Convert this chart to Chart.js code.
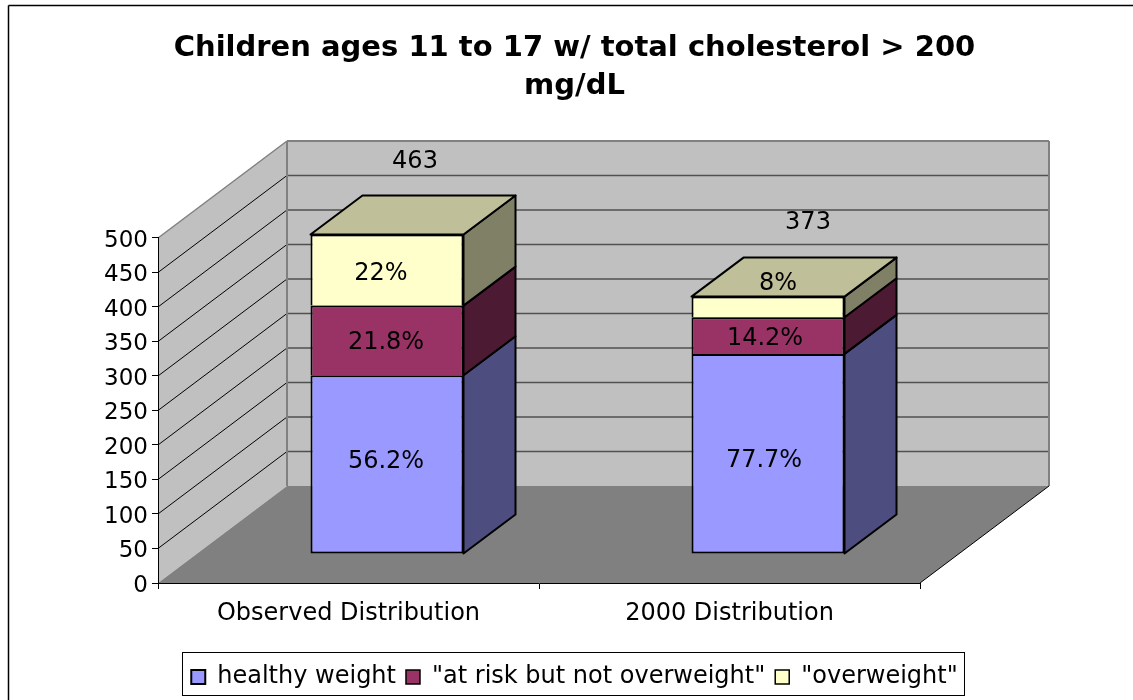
<!DOCTYPE html>
<html>
<head>
<meta charset="utf-8">
<title>Children ages 11 to 17 w/ total cholesterol > 200 mg/dL</title>
<script src="https://cdn.jsdelivr.net/npm/chart.js@4"></script>
<style>
    html, body { margin: 0; padding: 0; background: #fff; }
    canvas { display: block; }
</style>
</head>
<body>
<canvas id="cholesterolChart" width="1133" height="700"></canvas>
<script>
// Chart data
const categories = ['Observed Distribution', '2000 Distribution'];
const seriesNames = ['healthy weight', '"at risk but not overweight"', '"overweight"'];
const healthyWeight = [259, 290];
const atRisk = [101, 53];
const overweight = [103, 30];
const healthyLabels = ['56.2%', '77.7%'];
const atRiskLabels = ['21.8%', '14.2%'];
const overweightLabels = ['22%', '8%'];
const totals = [463, 373];
const yTicks = [0, 50, 100, 150, 200, 250, 300, 350, 400, 450, 500];

// Colours of each series: front, top and side faces
const frontColors = ['#9999ff', '#993366', '#ffffcc'];
const topColors = ['#7373bf', '#732648', '#bfbf99'];
const sideColors = ['#4d4d80', '#4d1a33', '#808066'];

// 3D look: how far the back wall and the bars are pushed from the axis plane
const wallDepth = { x: 129, y: -97 };
const barShift = { x: 38.5, y: -29 };
const barDepth = { x: 52, y: -39 };

// Hand placed labels, moved away from the middle of their segment
const segmentNudges = [
    [{ x: -1, y: -2.5 }, { x: -4, y: 7.5 }],
    [{ x: -1, y: 2.5 }, { x: -3, y: 3.5 }],
    [{ x: -6, y: 3.5 }, { x: 10, y: -23 }]
];
const totalNudges = [{ x: 28, y: -73 }, { x: 40, y: -73.5 }];
const segmentLabels = [healthyLabels, atRiskLabels, overweightLabels];

const fontFamily = '"DejaVu Sans", Verdana, sans-serif';

function poly(ctx, points, fill, stroke, lineWidth) {
    ctx.beginPath();
    points.forEach((p, i) => i ? ctx.lineTo(p[0], p[1]) : ctx.moveTo(p[0], p[1]));
    ctx.closePath();
    if (fill) {
        ctx.fillStyle = fill;
        ctx.fill();
    }
    if (stroke) {
        ctx.strokeStyle = stroke;
        ctx.lineWidth = lineWidth;
        ctx.lineJoin = 'round';
        ctx.stroke();
    }
}

function line(ctx, x1, y1, x2, y2, color, lineWidth) {
    ctx.beginPath();
    ctx.moveTo(x1, y1);
    ctx.lineTo(x2, y2);
    ctx.strokeStyle = color;
    ctx.lineWidth = lineWidth;
    ctx.stroke();
}

// Walls, floor and gridlines, under everything else
const wallsPlugin = {
    id: 'walls',
    // y tick labels sit a little under their tick marks
    afterLayout(chart) {
        chart.scales.y.getLabelItems().forEach(item => { item.textOffset += 3; });
    },
    beforeDraw(chart) {
        const { ctx, chartArea: area, scales } = chart;
        const dx = wallDepth.x;
        const dy = wallDepth.y;
        ctx.save();

        // outer frame, cut off on the right and at the bottom
        line(ctx, 8.5, chart.height, 8.5, 5.5, '#000', 1.5);
        line(ctx, 8.5, 5.5, chart.width, 5.5, '#000', 1.5);

        poly(ctx, [[area.left, area.bottom], [area.left + dx, area.bottom + dy],
            [area.left + dx, area.top + dy], [area.left, area.top]], '#c0c0c0');
        poly(ctx, [[area.left + dx, area.bottom + dy], [area.right + dx, area.bottom + dy],
            [area.right + dx, area.top + dy], [area.left + dx, area.top + dy]], '#c0c0c0');

        yTicks.forEach(v => {
            if (v === 0 || v === yTicks[yTicks.length - 1]) return;
            const y = scales.y.getPixelForValue(v);
            line(ctx, area.left, y, area.left + dx, y + dy, '#000', 1);
            line(ctx, area.left + dx, y + dy, area.right + dx, y + dy, '#505050', 1.5);
        });

        // wall outlines
        const topBack = area.top + dy;
        const bottomBack = area.bottom + dy;
        line(ctx, area.left, area.top, area.left + dx, topBack, '#808080', 1.5);
        line(ctx, area.left + dx, topBack, area.right + dx, topBack, '#808080', 2);
        line(ctx, area.right + dx, topBack, area.right + dx, bottomBack, '#808080', 2);
        line(ctx, area.left + dx, topBack, area.left + dx, bottomBack, '#808080', 2);

        poly(ctx, [[area.left, area.bottom], [area.right, area.bottom],
            [area.right + dx, bottomBack], [area.left + dx, bottomBack]], '#808080');
        line(ctx, area.right, area.bottom, area.right + dx, bottomBack, '#000', 1);
        ctx.restore();
    },
    // the library draws the front faces, pushed into the room
    beforeDatasetsDraw(chart) {
        chart.ctx.save();
        chart.ctx.translate(barShift.x, barShift.y);
    },
    afterDatasetsDraw(chart) {
        const { ctx } = chart;
        const dx = barDepth.x;
        const dy = barDepth.y;

        chart.data.datasets.forEach((dataset, d) => {
            chart.getDatasetMeta(d).data.forEach((bar, i) => {
                const left = bar.x - bar.width / 2;
                const right = bar.x + bar.width / 2;
                poly(ctx, [[right, bar.base], [right + dx, bar.base + dy],
                    [right + dx, bar.y + dy], [right, bar.y]], sideColors[d], '#000', 2);
                if (d === chart.data.datasets.length - 1) {
                    poly(ctx, [[left, bar.y], [left + dx, bar.y + dy],
                        [right + dx, bar.y + dy], [right, bar.y]], topColors[d], '#000', 2);
                }
            });
        });
        ctx.restore();

        // value labels
        ctx.save();
        ctx.font = '24px ' + fontFamily;
        ctx.fillStyle = '#000';
        ctx.textAlign = 'center';
        ctx.textBaseline = 'middle';
        chart.data.datasets.forEach((dataset, d) => {
            chart.getDatasetMeta(d).data.forEach((bar, i) => {
                const nudge = segmentNudges[d][i];
                ctx.fillText(segmentLabels[d][i],
                    bar.x + barShift.x + nudge.x,
                    (bar.y + bar.base) / 2 + barShift.y + nudge.y);
                if (d === chart.data.datasets.length - 1) {
                    ctx.fillText(String(totals[i]),
                        bar.x + barShift.x + totalNudges[i].x,
                        bar.y + barShift.y + totalNudges[i].y);
                }
            });
        });
        ctx.restore();
    },
    // box round the legend
    afterDraw(chart) {
        const boxes = chart.legend.legendHitBoxes;
        const first = boxes[0];
        const last = boxes[boxes.length - 1];
        const { ctx } = chart;
        ctx.save();
        ctx.strokeStyle = '#000';
        ctx.lineWidth = 1;
        ctx.strokeRect(Math.round(first.left) - 8.5, Math.round(first.top) - 12.5,
            Math.round(last.left + last.width - first.left) + 16, 43);
        ctx.restore();
    }
};

const datasets = [healthyWeight, atRisk, overweight].map((values, i) => ({
    label: seriesNames[i],
    data: values,
    backgroundColor: frontColors[i],
    borderColor: '#000',
    // neighbours share one line, only the lowest segment closes the bottom
    borderWidth: { top: 2, left: 2, right: 2, bottom: i === 0 ? 2 : 0 },
    borderSkipped: false
}));

Chart.defaults.font.family = fontFamily;
Chart.defaults.color = '#000';

new Chart(document.getElementById('cholesterolChart'), {
    type: 'bar',
    data: { labels: categories, datasets: datasets },
    plugins: [wallsPlugin],
    options: {
        responsive: false,
        animation: false,
        layout: { padding: { left: 16, right: 0, top: 0, bottom: 1 } },
        datasets: { bar: { barPercentage: 1, categoryPercentage: 0.4016 } },
        plugins: {
            tooltip: { enabled: false },
            title: {
                display: true,
                text: ['Children ages 11 to 17 w/ total cholesterol > 200', 'mg/dL'],
                color: '#000',
                font: { size: 29, weight: 'bold', lineHeight: 1.31 },
                padding: { top: 29.5, bottom: 132.5 }
            },
            legend: {
                position: 'bottom',
                labels: {
                    boxWidth: 14,
                    boxHeight: 14,
                    padding: 10,
                    color: '#000',
                    font: { size: 24 }
                }
            }
        },
        scales: {
            x: {
                stacked: true,
                border: { color: '#000', width: 1 },
                grid: { drawOnChartArea: false, tickLength: 6, color: '#000' },
                ticks: { font: { size: 24 }, padding: 10, color: '#000', maxRotation: 0 },
                afterFit(scale) { scale.height = 72; }
            },
            y: {
                stacked: true,
                min: 0,
                max: 500,
                border: { color: '#000', width: 1 },
                grid: { drawOnChartArea: false, tickLength: 6, color: '#000' },
                ticks: { font: { size: 23 }, padding: 4, color: '#000' },
                afterBuildTicks(scale) { scale.ticks = yTicks.map(v => ({ value: v })); },
                afterFit(scale) { scale.width = 142; }
            },
            // empty axis, only keeps the room on the right of the plot
            rightGap: {
                position: 'right',
                grid: { display: false },
                border: { display: false },
                ticks: { display: false },
                afterFit(scale) { scale.width = 213; }
            }
        }
    }
});
</script>
</body>
</html>
